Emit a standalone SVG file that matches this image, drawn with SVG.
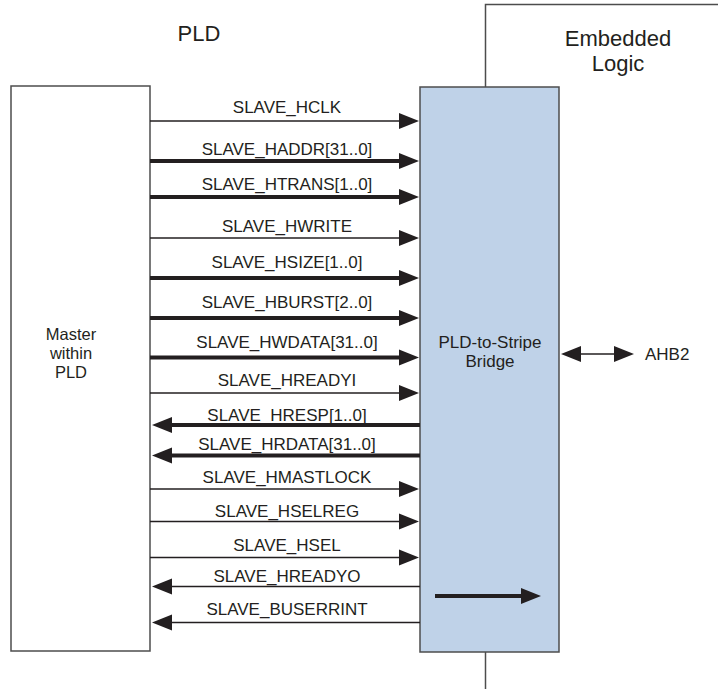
<svg xmlns="http://www.w3.org/2000/svg" width="718" height="689" viewBox="0 0 718 689">
<style>
text{font-family:"Liberation Sans",Arial,sans-serif;fill:#231f20}
.lbl{font-size:17px;text-anchor:middle}
.title{font-size:22px;text-anchor:middle}
.box{fill:#fff;stroke:#4d4d4d;stroke-width:1.5}
.bridge{fill:#bfd2e8;stroke:#4d4d4d;stroke-width:1.5}
.edge{stroke:#4d4d4d;stroke-width:1.5;fill:none}
.thin{stroke:#231f20;stroke-width:1.4;fill:none;marker-end:url(#ah)}
.thick{stroke:#231f20;stroke-width:4;fill:none;marker-end:url(#ah)}
</style>
<defs>
<marker id="ah" markerUnits="userSpaceOnUse" markerWidth="20" markerHeight="16" refX="1" refY="8" orient="auto" overflow="visible">
<path d="M0,0 L20,8 L0,16 z" fill="#231f20"/>
</marker>
<marker id="ahs" markerUnits="userSpaceOnUse" markerWidth="20" markerHeight="16" refX="1" refY="8" orient="auto-start-reverse" overflow="visible">
<path d="M0,0 L20,8 L0,16 z" fill="#231f20"/>
</marker>
</defs>
<rect width="718" height="689" fill="#fff"/>
<g id="pld-region">
<text class="title" x="199" y="41">PLD</text>
</g>
<g id="embedded-logic">
<path class="edge" d="M485.5,87 V4.5 H718"/>
<path class="edge" d="M485.5,652 V689"/>
<text class="title" x="618" y="46">Embedded</text>
<text class="title" x="618" y="71">Logic</text>
</g>
<g id="master">
<rect class="box" x="11" y="86" width="139" height="565"/>
<text class="lbl" x="71" y="340" style="font-size:16.5px">Master</text>
<text class="lbl" x="71" y="359" style="font-size:16.5px">within</text>
<text class="lbl" x="71" y="378" style="font-size:16.5px">PLD</text>
</g>
<g id="bridge">
<rect class="bridge" x="420" y="87" width="139" height="565"/>
<text class="lbl" x="490" y="348">PLD-to-Stripe</text>
<text class="lbl" x="490" y="367">Bridge</text>
<line class="thick" x1="435" y1="596" x2="522" y2="596"/>
</g>
<g id="ahb2">
<text x="645" y="360" style="font-size:17px">AHB2</text>
</g>
<g id="connectors">
<line class="thin" x1="150" y1="121" x2="400" y2="121"/>
<line class="thick" x1="150" y1="161" x2="400" y2="161"/>
<line class="thick" x1="150" y1="197" x2="400" y2="197"/>
<line class="thin" x1="150" y1="238" x2="400" y2="238"/>
<line class="thick" x1="150" y1="278" x2="400" y2="278"/>
<line class="thick" x1="150" y1="318" x2="400" y2="318"/>
<line class="thick" x1="150" y1="357.5" x2="400" y2="357.5"/>
<line class="thin" x1="150" y1="393" x2="400" y2="393"/>
<line class="thick" x1="420" y1="425" x2="171" y2="425"/>
<line class="thick" x1="420" y1="455.5" x2="171" y2="455.5"/>
<line class="thin" x1="150" y1="489" x2="400" y2="489"/>
<line class="thin" x1="150" y1="521.5" x2="400" y2="521.5"/>
<line class="thin" x1="150" y1="557.5" x2="400" y2="557.5"/>
<line class="thin" x1="420" y1="586.5" x2="171" y2="586.5"/>
<line class="thin" x1="420" y1="622.5" x2="171" y2="622.5"/>
<line x1="580" y1="354" x2="615" y2="354" stroke="#231f20" stroke-width="1.4" marker-start="url(#ahs)" marker-end="url(#ahs)"/>
</g>
<g id="labels">
<text class="lbl" x="287" y="113">SLAVE_HCLK</text>
<text class="lbl" x="287" y="155">SLAVE_HADDR[31..0]</text>
<text class="lbl" x="287" y="190">SLAVE_HTRANS[1..0]</text>
<text class="lbl" x="287" y="231.5">SLAVE_HWRITE</text>
<text class="lbl" x="287" y="268">SLAVE_HSIZE[1..0]</text>
<text class="lbl" x="287" y="308">SLAVE_HBURST[2..0]</text>
<text class="lbl" x="287" y="348">SLAVE_HWDATA[31..0]</text>
<text class="lbl" x="287" y="386">SLAVE_HREADYI</text>
<text class="lbl" x="287" y="420.5">SLAVE_HRESP[1..0]</text>
<text class="lbl" x="287" y="449.5">SLAVE_HRDATA[31..0]</text>
<text class="lbl" x="287" y="482.5">SLAVE_HMASTLOCK</text>
<text class="lbl" x="287" y="517">SLAVE_HSELREG</text>
<text class="lbl" x="287" y="550.5">SLAVE_HSEL</text>
<text class="lbl" x="287" y="581.5">SLAVE_HREADYO</text>
<text class="lbl" x="287" y="615">SLAVE_BUSERRINT</text>
</g>
</svg>
